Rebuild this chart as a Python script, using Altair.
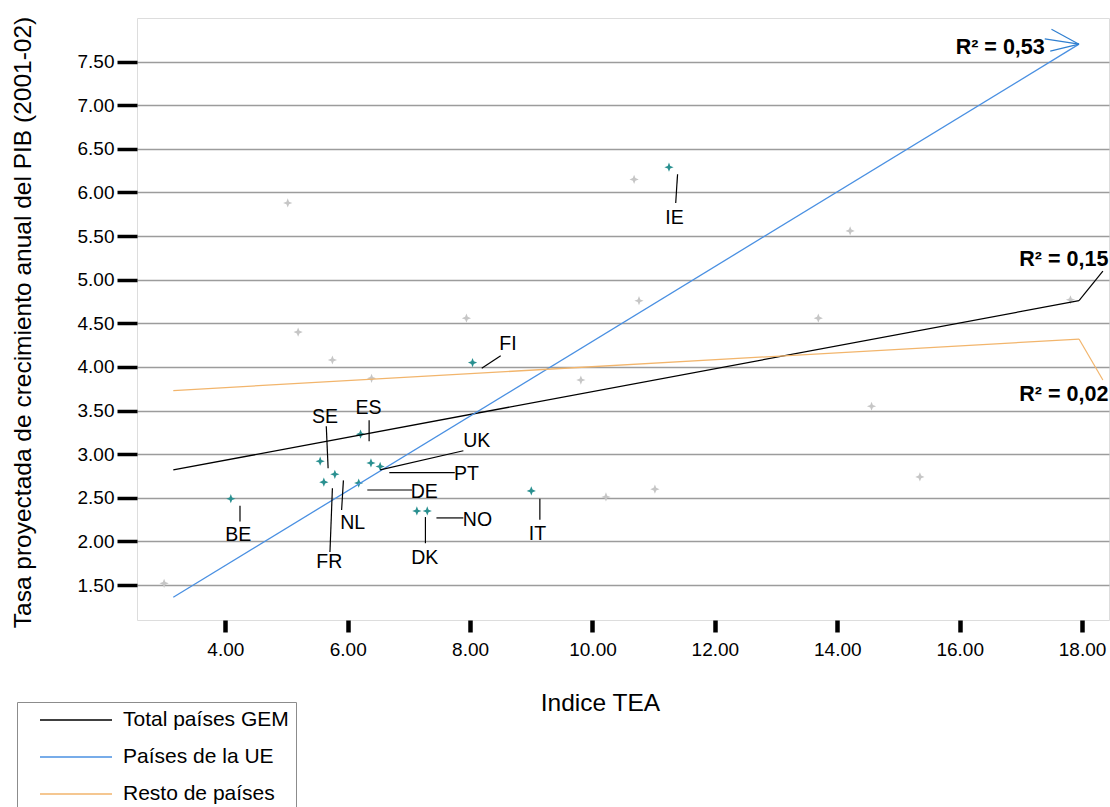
import altair as alt
import pandas as pd

# Indice TEA (x) y tasa proyectada de crecimiento anual del PIB 2001-02 (y)
ue_codes = ["BE", "FR", "SE", "NL", "ES", "DE", "UK", "PT", "DK", "NO", "IT", "FI", "IE"]
ue_tea = [4.09, 5.61, 5.55, 5.79, 6.21, 6.18, 6.38, 6.53, 7.13, 7.30, 9.00, 8.04, 11.25]
ue_pib = [2.49, 2.68, 2.92, 2.77, 3.23, 2.67, 2.90, 2.86, 2.35, 2.35, 2.58, 4.05, 6.29]

resto_tea = [3.00, 5.02, 5.19, 5.75, 6.39, 7.94, 9.81, 10.22, 10.68, 10.76, 11.02,
             13.69, 14.21, 14.56, 15.35, 17.81]
resto_pib = [1.52, 5.88, 4.40, 4.08, 3.87, 4.56, 3.85, 2.51, 6.15, 4.76, 2.60,
             4.56, 5.56, 3.55, 2.74, 4.77]

# Rectas de ajuste por grupo (inicio y fin)
series = ["Total países GEM", "Países de la UE", "Resto de países"]
series_colors = ["#000000", "#4a90e2", "#f2b56c"]
fit_x0 = [3.15, 3.15, 3.15]
fit_x1 = [17.95, 17.95, 17.95]
fit_y0 = [2.82, 1.36, 3.73]
fit_y1 = [4.76, 7.70, 4.32]

# Etiquetas de país: posición del texto y de su línea guía
lab_x = [4.21, 5.70, 5.63, 6.08, 6.34, 7.25, 8.11, 7.94, 7.26, 8.12, 9.10, 8.62, 11.34]
lab_y = [2.07, 1.76, 3.43, 2.21, 3.53, 2.57, 3.15, 2.77, 1.81, 2.25, 2.09, 4.26, 5.71]
lead_x0 = [4.24, 5.75, 5.65, 5.93, 6.35, 6.32, 7.89, 6.68, 7.27, 7.45, 9.14, 8.19, 11.39]
lead_y0 = [2.41, 2.61, 3.32, 2.70, 3.39, 2.59, 3.04, 2.79, 2.28, 2.27, 2.49, 3.985, 6.21]
lead_x1 = [4.24, 5.71, 5.68, 5.90, 6.35, 7.05, 6.53, 7.75, 7.27, 7.89, 9.14, 8.50, 11.36]
lead_y1 = [2.23, 1.88, 2.84, 2.36, 3.15, 2.59, 2.82, 2.79, 1.98, 2.27, 2.25, 4.13, 5.88]

# Coeficientes R² de cada ajuste
r2_text = ["R² = 0,15", "R² = 0,53", "R² = 0,02"]
r2_x = [18.43, 17.39, 18.43]
r2_y = [5.23, 7.655, 3.68]
r2_lead_x0 = [17.95, 17.39, 17.50, 17.48, 17.95]
r2_lead_y0 = [4.76, 7.76, 7.87, 7.62, 4.32]
r2_lead_x1 = [18.34, 17.95, 17.95, 17.95, 18.34]
r2_lead_y1 = [5.10, 7.70, 7.70, 7.70, 3.85]
r2_lead_color = ["#000000", "#2f7fd0", "#2f7fd0", "#2f7fd0", "#f2b56c"]

x_ticks = [4, 6, 8, 10, 12, 14, 16, 18]
y_ticks = [1.5, 2.0, 2.5, 3.0, 3.5, 4.0, 4.5, 5.0, 5.5, 6.0, 6.5, 7.0, 7.5]

FONT = "Liberation Sans"
W, H = 972, 602

ue_df = pd.DataFrame({"tea": ue_tea, "pib": ue_pib, "pais": ue_codes})
resto_df = pd.DataFrame({"tea": resto_tea, "pib": resto_pib})
fit_df = pd.DataFrame({
    "serie": series * 2,
    "tea": fit_x0 + fit_x1,
    "pib": fit_y0 + fit_y1,
})
lab_df = pd.DataFrame({"pais": ue_codes, "x": lab_x, "y": lab_y})
lead_df = pd.DataFrame({"x": lead_x0, "y": lead_y0, "x2": lead_x1, "y2": lead_y1})
r2_df = pd.DataFrame({"t": r2_text, "x": r2_x, "y": r2_y})
r2_lead_df = pd.DataFrame({"x": r2_lead_x0, "y": r2_lead_y0, "x2": r2_lead_x1,
                           "y2": r2_lead_y1, "c": r2_lead_color})

xs = alt.Scale(domain=[2.557, 18.44], nice=False, zero=False)
ys = alt.Scale(domain=[1.1, 8.0], nice=False, zero=False)

x_axis = alt.Axis(values=x_ticks, format=".2f", title="Indice TEA", grid=False,
                  domain=False, tickColor="black", tickWidth=4.5, tickSize=12,
                  labelFontSize=19, labelPadding=8, labelColor="black",
                  labelOverlap=False, labelFlush=False,
                  titleFontSize=24.5, titleFontWeight="normal", titleColor="black",
                  titleX=463, titleY=83, titleBaseline="middle", titleAlign="center")
y_axis = alt.Axis(values=y_ticks, format=".2f",
                  title="Tasa proyectada de crecimiento anual del PIB (2001-02)",
                  grid=True, gridColor="#9c9c9c", gridWidth=1.5, domain=False,
                  tickColor="black", tickWidth=3.5, tickSize=20,
                  labelFontSize=19, labelPadding=3, labelColor="black",
                  labelOverlap=False,
                  titleFontSize=24.5, titleFontWeight="normal", titleColor="black",
                  titleX=-114, titleY=304, titleAngle=-90, titleBaseline="middle",
                  titleAlign="center")

star = "M0,-1L0.28,-0.28L1,0L0.28,0.28L0,1L-0.28,0.28L-1,0L-0.28,-0.28Z"

base_axes = alt.Chart(resto_df).mark_point(
    shape=star, filled=True, size=85, color="#c6c6c6", opacity=1
).encode(
    x=alt.X("tea:Q", scale=xs, axis=x_axis),
    y=alt.Y("pib:Q", scale=ys, axis=y_axis),
)

fits = alt.Chart(fit_df).mark_line(strokeWidth=1.3, clip=False).encode(
    x=alt.X("tea:Q", scale=xs),
    y=alt.Y("pib:Q", scale=ys),
    color=alt.Color(
        "serie:N",
        scale=alt.Scale(domain=series, range=series_colors),
        sort=series,
        legend=alt.Legend(
            orient="none", legendX=-120, legendY=684, title=None,
            symbolType="M-3.6,0L3.6,0", symbolSize=400, symbolStrokeWidth=1.6,
            labelFontSize=21, labelFont=FONT, labelColor="black", labelLimit=600,
            labelExpr="datum.label + '           '",
            strokeColor="#8c8c8c", fillColor="white", padding=7,
            rowPadding=16, symbolOffset=41, labelOffset=36,
        ),
    ),
)

ue_pts = alt.Chart(ue_df).mark_point(
    shape=star, filled=True, size=85, color="#2a9090", opacity=1
).encode(x=alt.X("tea:Q", scale=xs), y=alt.Y("pib:Q", scale=ys))

leaders = alt.Chart(lead_df).mark_rule(color="black", strokeWidth=1.2).encode(
    x=alt.X("x:Q", scale=xs), y=alt.Y("y:Q", scale=ys), x2="x2:Q", y2="y2:Q"
)

labels = alt.Chart(lab_df).mark_text(
    font=FONT, fontSize=19.5, color="black", align="center", baseline="middle"
).encode(x=alt.X("x:Q", scale=xs), y=alt.Y("y:Q", scale=ys), text="pais:N")

r2_leaders = alt.Chart(r2_lead_df).mark_rule(strokeWidth=1.2, clip=False).encode(
    x=alt.X("x:Q", scale=xs), y=alt.Y("y:Q", scale=ys), x2="x2:Q", y2="y2:Q",
    color=alt.Color("c:N", scale=None, legend=None),
)

r2_labels = alt.Chart(r2_df).mark_text(
    font=FONT, fontSize=21.5, fontWeight="bold", color="black",
    align="right", baseline="middle", clip=False
).encode(x=alt.X("x:Q", scale=xs), y=alt.Y("y:Q", scale=ys), text="t:N")

chart = alt.layer(
    base_axes, ue_pts, fits, leaders, labels, r2_leaders, r2_labels
).resolve_scale(color="independent").properties(
    width=W, height=H,
    autosize=alt.AutoSizeParams(type="none"),
    padding={"left": 137, "top": 18, "right": 1, "bottom": 187},
    background="white",
).configure_view(
    stroke="#8c8c8c", strokeWidth=1.5
).configure(font=FONT)

chart.save("out.html", embed_options={"renderer": "svg", "actions": False})
